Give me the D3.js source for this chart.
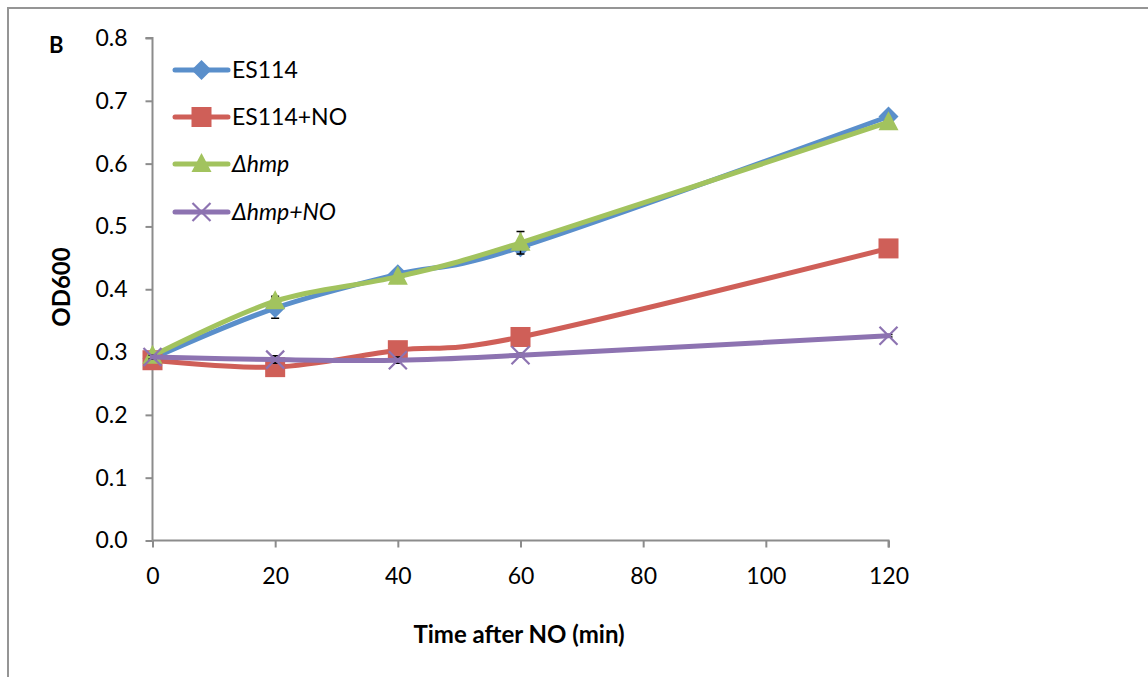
<!DOCTYPE html>
<html><head><meta charset="utf-8">
<script src="https://cdn.jsdelivr.net/npm/d3@7"></script>
<style>html,body{margin:0;padding:0;background:#fff;}svg{display:block;}</style>
</head><body>
<svg id="chart" width="1148" height="677"></svg>
<script>
const times = [0, 20, 40, 60, 120];
const seriesNames = ["ES114", "ES114+NO", "Δhmp", "Δhmp+NO"];
const es114 = [0.290, 0.370, 0.424, 0.467, 0.675];
const es114NO = [0.287, 0.276, 0.303, 0.324, 0.465];
const dhmp = [0.294, 0.381, 0.420, 0.474, 0.666];
const dhmpNO = [0.292, 0.288, 0.287, 0.295, 0.326];
const es114Err = [0.003, 0.016, 0.003, 0.008, 0.003];
const es114NOErr = [0.003, 0.004, 0.003, 0.004, 0.003];
const dhmpErr = [0.003, 0.008, 0.003, 0.018, 0.003];
const dhmpNOErr = [0.003, 0.006, 0.005, 0.003, 0.002];
const xTicks = [0, 20, 40, 60, 80, 100, 120];
const yTicks = [0, 0.1, 0.2, 0.3, 0.4, 0.5, 0.6, 0.7, 0.8];
const colors = ["#5A8FCB", "#CF5F58", "#A2C35E", "#8D73B1"];
const markers = ["diamond", "square", "triangle", "cross"];

const svg = d3.select("#chart");
const font = "Lato, 'Open Sans', sans-serif";

// outer frame
svg.append("path").attr("d", "M8,677 L8,8 L1148,8")
  .attr("fill", "none").attr("stroke", "#959595").attr("stroke-width", 2);

const x = d3.scaleLinear().domain([0, 120]).range([152.5, 888.5]);
const y = d3.scaleLinear().domain([0, 0.8]).range([540.5, 38]);

const axisColor = "#8c8c8c";
const yAxis = svg.append("g").attr("transform", "translate(152.5,0)")
  .call(d3.axisLeft(y).tickValues(yTicks).tickSize(7).tickPadding(18).tickFormat(d3.format(".1f")));
const xAxis = svg.append("g").attr("transform", "translate(0,540.5)")
  .call(d3.axisBottom(x).tickValues(xTicks).tickSize(7).tickPadding(20).tickFormat(d3.format("d")));
[xAxis, yAxis].forEach(g => {
  g.selectAll("path,line").attr("stroke", axisColor).attr("stroke-width", 2);
  g.selectAll("text").attr("fill", "#000").style("font-family", font).style("font-size", "23px");
});
xAxis.select(".domain").attr("d", "M152.5,0H888.5V7");
yAxis.select(".domain").attr("d", "M-7,38H0V540.5");

// axis titles
svg.append("text").attr("x", 519).attr("y", 643).attr("text-anchor", "middle")
  .style("font-family", font).style("font-weight", "bold").style("font-size", "24px")
  .text("Time after NO (min)");
svg.append("text").attr("transform", "translate(70,287) rotate(-90)").attr("text-anchor", "middle")
  .style("font-family", font).style("font-weight", "bold").style("font-size", "24px")
  .text("OD600");
svg.append("text").attr("x", 49).attr("y", 53)
  .style("font-family", font).style("font-weight", "bold").style("font-size", "22px")
  .text("B");

const data = [es114, es114NO, dhmp, dhmpNO];
const errs = [es114Err, es114NOErr, dhmpErr, dhmpNOErr];

function drawMarker(g, type, cx, cy, color) {
  if (type === "diamond") {
    g.append("path").attr("d", `M${cx},${cy-10}L${cx+10},${cy}L${cx},${cy+10}L${cx-10},${cy}Z`).attr("fill", color);
  } else if (type === "square") {
    g.append("rect").attr("x", cx-10).attr("y", cy-10).attr("width", 20).attr("height", 20).attr("fill", color);
  } else if (type === "triangle") {
    g.append("path").attr("d", `M${cx},${cy-11}L${cx+10},${cy+8}L${cx-10},${cy+8}Z`).attr("fill", color);
  } else {
    g.append("path").attr("d", `M${cx-9},${cy-9}L${cx+9},${cy+9}M${cx+9},${cy-9}L${cx-9},${cy+9}`)
      .attr("stroke", color).attr("stroke-width", 2.2).attr("fill", "none");
  }
}

const line = d3.line().x(d => x(d[0])).y(d => y(d[1])).curve(d3.curveCardinal.tension(0));

data.forEach((vals, i) => {
  const g = svg.append("g");
  // error bars
  vals.forEach((v, j) => {
    const e = errs[i][j], cx = x(times[j]);
    g.append("path").attr("d", `M${cx},${y(v+e)}V${y(v-e)}M${cx-4},${y(v+e)}H${cx+4}M${cx-4},${y(v-e)}H${cx+4}`)
      .attr("stroke", "#000").attr("stroke-width", 1.5).attr("fill", "none");
  });
  g.append("path").datum(times.map((t, j) => [t, vals[j]])).attr("d", line)
    .attr("fill", "none").attr("stroke", colors[i]).attr("stroke-width", 5).attr("stroke-linecap", "round");
  vals.forEach((v, j) => drawMarker(g, markers[i], x(times[j]), y(v), colors[i]));
});

// legend
const legY = [70, 117, 164, 212];
seriesNames.forEach((name, i) => {
  const g = svg.append("g");
  g.append("line").attr("x1", 175).attr("x2", 228).attr("y1", legY[i]).attr("y2", legY[i])
    .attr("stroke", colors[i]).attr("stroke-width", 5).attr("stroke-linecap", "round");
  drawMarker(g, markers[i], 201.5, legY[i], colors[i]);
  const t = g.append("text").attr("x", 232).attr("y", legY[i] + 8)
    .style("font-family", font).style("font-size", "23px").text(name);
  if (i >= 2) t.style("font-style", "italic");
});
</script>
</body></html>
